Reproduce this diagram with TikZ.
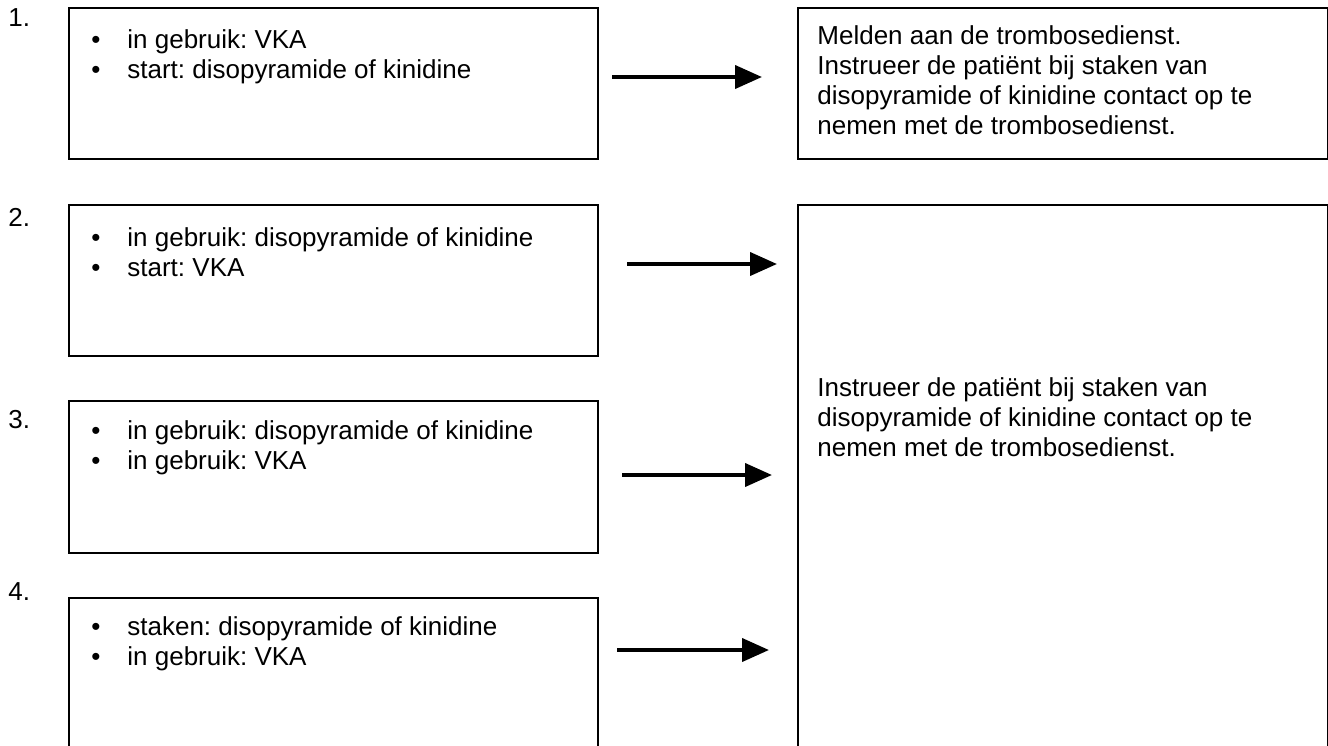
\documentclass[tikz,border=0pt]{standalone}
\usepackage{fontspec}
\setmainfont{Liberation Sans}
\usetikzlibrary{arrows.meta}
\frenchspacing
\newcommand{\itm}[1]{\makebox[18pt][l]{\textbullet}#1}
\begin{document}
\begin{tikzpicture}[x=0.5pt,y=-0.5pt,
    font=\fontsize{13}{15}\selectfont,
    box/.style={draw, line width=1pt, anchor=north west, inner sep=0pt, minimum width=264.5pt},
    txt/.style={anchor=west, align=left, inner sep=0pt},
    num/.style={anchor=base west, inner sep=0pt},
    arr/.style={line width=2pt, -{Triangle[length=13.5pt,width=11.5pt]}}]
  \useasboundingbox (0,0) rectangle (1328,745);
  % left column
  \node[num] (n1) at (8,26) {1.};
  \node[num] (n2) at (8,226) {2.};
  \node[num] (n3) at (8,428) {3.};
  \node[num] (n4) at (8,600) {4.};
  \node[box, minimum height=75.5pt] (b1) at (68,7) {};
  \node[box, minimum height=75.5pt] (b2) at (68,204) {};
  \node[box, minimum height=76pt] (b3) at (68,400) {};
  \node[box, minimum height=85pt] (b4) at (68,597) {};
  \node[txt] (t1) at (91,57) {\itm{in gebruik: VKA}\\\itm{start: disopyramide of kinidine}};
  \node[txt] (t2) at (91,252) {\itm{in gebruik: disopyramide of kinidine}\\\itm{start: VKA}};
  \node[txt] (t3) at (91,448) {\itm{in gebruik: disopyramide of kinidine}\\\itm{in gebruik: VKA}};
  \node[txt] (t4) at (91,644) {\itm{staken: disopyramide of kinidine}\\\itm{in gebruik: VKA}};
  % right column
  \node[box, minimum width=265pt, minimum height=75.5pt] (r1) at (797,7) {};
  \node[box, minimum width=265pt, minimum height=280pt] (r2) at (797,204) {};
  \node[txt] (s1) at (817,80) {Melden aan de trombosedienst.\\Instrueer de patiënt bij staken van\\disopyramide of kinidine contact op te\\nemen met de trombosedienst.};
  \node[txt] (s2) at (817,417) {Instrueer de patiënt bij staken van\\disopyramide of kinidine contact op te\\nemen met de trombosedienst.};
  % arrows
  \coordinate (a1) at (612,77);  \coordinate (e1) at (762,77);
  \coordinate (a2) at (627,264); \coordinate (e2) at (777,264);
  \coordinate (a3) at (622,475); \coordinate (e3) at (772,475);
  \coordinate (a4) at (617,650); \coordinate (e4) at (769,650);
  \draw[arr] (a1) -- (e1);
  \draw[arr] (a2) -- (e2);
  \draw[arr] (a3) -- (e3);
  \draw[arr] (a4) -- (e4);
\end{tikzpicture}
\end{document}
